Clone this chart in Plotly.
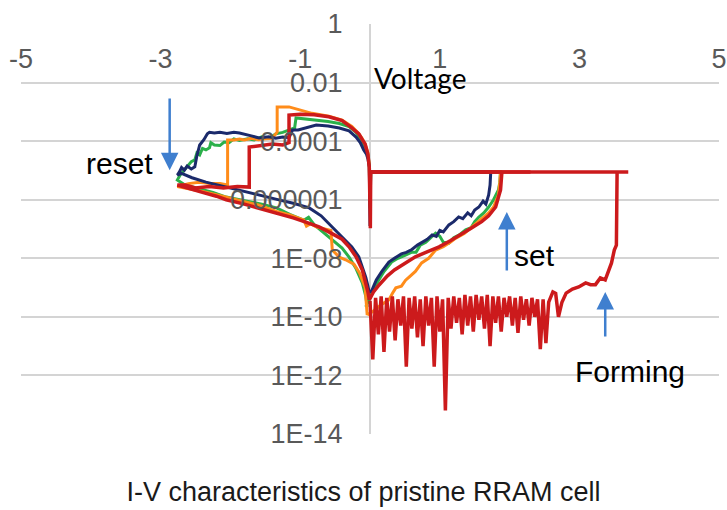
import numpy as np
import plotly.graph_objects as go

# ---------------- data (voltage in V, current as log10(A)) ----------------
x_tick_vals = [-5, -3, -1, 1, 3, 5]
x_tick_text = ["-5", "-3", "-1", "1", "3", "5"]
y_tick_vals = [1, 1e-2, 1e-4, 1e-6, 1e-8, 1e-10, 1e-12, 1e-14]
y_tick_text = ["1", "0.01", "0.0001", "0.000001", "1E-08", "1E-10", "1E-12", "1E-14"]

navy_v = [0.01, 0.05, 0.09, 0.17, 0.27, 0.35, 0.45, 0.52, 0.60, 0.68, 0.75, 0.82, 0.89, 0.95, 1.00, 1.05,
          1.13, 1.20, 1.27, 1.33, 1.40, 1.45, 1.50, 1.56, 1.62, 1.66, 1.70, 1.72, 1.73,
          0.01, 0.00,
          -0.01, -0.03, -0.05, -0.09, -0.14, -0.20, -0.30, -0.44, -0.60, -0.77, -0.87, -0.95, -1.03, -1.11,
          -1.16, -1.25, -1.35, -1.45, -1.59, -1.70, -1.80, -1.87, -1.95, -2.05, -2.15, -2.23, -2.30, -2.33,
          -2.38, -2.44, -2.48, -2.51, -2.56, -2.62, -2.66, -2.70, -2.73, -2.76,
          -2.70, -2.55, -2.35, -2.10, -1.85, -1.59, -1.35, -1.10, -0.87, -0.70, -0.54, -0.40, -0.26, -0.16,
          -0.11, -0.06, -0.03, -0.01]
navy_logi = [-9.19, -8.95, -8.74, -8.45, -8.13, -8.00, -7.85, -7.80, -7.70, -7.55, -7.45, -7.35, -7.20, -7.25,
             -7.05, -7.10, -6.86, -6.75, -6.59, -6.65, -6.45, -6.55, -6.35, -6.25, -6.05, -6.15, -5.84, -5.50, -5.05,
             -5.05, -6.90,
             -4.88, -4.60, -4.45, -4.30, -4.05, -3.86, -3.65, -3.55, -3.48, -3.45, -3.52, -3.58, -3.62, -3.62,
             -3.88, -3.86, -3.90, -3.85, -3.89, -3.82, -3.75, -3.72, -3.70, -3.74, -3.70, -3.72, -3.70, -3.75,
             -3.95, -4.13, -4.50, -4.88, -4.95, -4.85, -4.99, -4.90, -5.05, -5.16,
             -5.10, -5.25, -5.40, -5.55, -5.70, -5.84, -5.98, -6.12, -6.28, -6.55, -6.93, -7.25, -7.61, -7.95,
             -8.30, -8.65, -8.95, -9.19]

green_v = [-0.06, 0.00, 0.05, 0.10, 0.20, 0.31, 0.40, 0.50, 0.60, 0.66, 0.72, 0.80, 0.87, 0.94, 1.00, 1.05,
           1.13, 1.20, 1.28, 1.37, 1.45, 1.50, 1.56, 1.63, 1.70, 1.77, 1.84, 1.86, 1.87,
           0.01, 0.00,
           -0.01, -0.03, -0.05, -0.09, -0.14, -0.20, -0.30, -0.44, -0.60, -0.77, -0.90, -1.00, -1.06, -1.08,
           -1.15, -1.25, -1.35, -1.44, -1.55, -1.66, -1.75, -1.87, -1.95, -2.02, -2.09, -2.15, -2.23, -2.28,
           -2.30, -2.35, -2.40, -2.44, -2.48, -2.51, -2.56, -2.62, -2.66, -2.72, -2.76,
           -2.65, -2.45, -2.25, -2.06, -1.80, -1.55, -1.34, -1.15, -0.95, -0.88, -0.80, -0.70, -0.54, -0.40,
           -0.30, -0.20, -0.11, -0.06, -0.04]
green_logi = [-9.66, -9.30, -9.05, -8.84, -8.45, -8.13, -8.00, -7.90, -7.79, -7.79, -7.55, -7.45, -7.30, -7.14,
              -7.25, -7.45, -7.48, -7.30, -7.20, -7.03, -6.95, -6.75, -6.59, -6.45, -6.25, -6.00, -5.67, -5.40, -5.05,
              -5.05, -6.20,
              -4.80, -4.50, -4.30, -4.10, -3.90, -3.70, -3.50, -3.40, -3.33, -3.28, -3.25, -3.22, -3.21, -3.55,
              -3.62, -3.70, -3.75, -3.89, -3.85, -3.96, -3.92, -3.98, -3.92, -4.05, -4.03, -4.15, -4.13, -4.05,
              -4.23, -4.30, -4.25, -4.47, -4.40, -4.64, -4.70, -4.88, -5.00, -5.16, -5.33,
              -5.50, -5.62, -5.75, -5.91, -6.03, -6.15, -6.28, -6.50, -6.70, -6.60, -6.85, -7.05, -7.38, -7.65,
              -7.96, -8.35, -8.84, -9.30, -9.66]

orange_v = [-0.04, 0.05, 0.15, 0.27, 0.32, 0.37, 0.45, 0.51, 0.56, 0.65, 0.74, 0.84, 0.94, 1.05, 1.15, 1.23,
            1.35, 1.45, 1.55, 1.62, 1.70, 1.77, 1.84, 1.86, 1.87,
            0.01, 0.00,
            -0.01, -0.03, -0.07, -0.11, -0.16, -0.26, -0.40, -0.59, -0.83, -1.01, -1.16, -1.25, -1.33,
            -1.33, -1.40, -1.50, -1.60, -1.70, -1.80, -1.87, -1.95, -2.04,
            -2.04, -2.15, -2.30, -2.45, -2.60, -2.76,
            -2.60, -2.40, -2.20, -2.06, -1.80, -1.60, -1.34, -1.15, -0.95, -0.91, -0.85, -0.77, -0.65, -0.56,
            -0.54, -0.44, -0.35, -0.23, -0.15, -0.07, -0.04]
orange_logi = [-9.94, -9.80, -9.60, -9.42, -9.20, -9.01, -8.95, -8.75, -8.64, -8.45, -8.16, -8.00, -7.72, -7.60,
               -7.45, -7.31, -7.15, -6.95, -6.75, -6.60, -6.45, -6.25, -5.84, -5.40, -5.05,
               -5.05, -6.30,
               -4.85, -4.40, -4.10, -3.92, -3.75, -3.50, -3.28, -3.15, -3.05, -2.93, -2.83, -2.83, -2.83,
               -3.69, -3.90, -3.92, -3.95, -3.90, -3.96, -3.93, -3.96, -3.96,
               -5.50, -5.45, -5.45, -5.40, -5.45, -5.55,
               -5.62, -5.72, -5.83, -5.91, -6.05, -6.18, -6.40, -6.52, -6.69, -6.90, -6.82, -6.93, -7.00, -7.05,
               -7.72, -7.96, -8.05, -8.20, -8.50, -9.00, -9.94]

red_v = [-0.01, 0.05, 0.13, 0.25, 0.35, 0.51, 0.65, 0.80, 0.99, 1.15, 1.30, 1.46, 1.60, 1.70, 1.80, 1.85,
         1.87, 1.89,
         2.30, 0.01, 0.005,
         -0.01, -0.03, -0.07, -0.11, -0.16, -0.26, -0.40, -0.59, -0.80, -1.00, -1.16,
         -1.16, -1.25, -1.40, -1.55, -1.73,
         -1.73, -1.90, -2.10, -2.30, -2.50, -2.65, -2.76,
         -2.60, -2.40, -2.20, -2.06, -1.80, -1.60, -1.34, -1.10, -0.90, -0.73, -0.55, -0.40, -0.30, -0.20,
         -0.11, -0.06, -0.03, -0.01]
red_logi = [-9.42, -9.15, -8.91, -8.60, -8.40, -8.16, -7.95, -7.80, -7.61, -7.40, -7.20, -6.96, -6.75, -6.55,
            -6.25, -5.90, -5.67, -5.05,
            -5.05, -5.05, -6.97,
            -4.90, -4.45, -4.10, -3.95, -3.75, -3.55, -3.30, -3.17, -3.10, -3.08, -3.11,
            -4.05, -4.13, -4.10, -4.15, -4.20,
            -5.57, -5.55, -5.60, -5.55, -5.60, -5.50, -5.50,
            -5.62, -5.75, -5.88, -6.00, -6.15, -6.28, -6.45, -6.62, -6.78, -6.93, -7.15, -7.35, -7.61, -7.95,
            -8.40, -8.84, -9.15, -9.42]

forming_v = [0.00, 0.04, 0.08, 0.12, 0.16, 0.20, 0.24, 0.28, 0.32, 0.36, 0.40, 0.44, 0.48, 0.52, 0.56, 0.60,
             0.64, 0.68, 0.72, 0.76, 0.80, 0.84, 0.88, 0.92, 0.96, 1.00, 1.04, 1.08, 1.12, 1.16, 1.20, 1.24,
             1.28, 1.32, 1.36, 1.40, 1.44, 1.48, 1.52, 1.56, 1.60, 1.64, 1.68, 1.72, 1.76, 1.80, 1.84, 1.88,
             1.92, 1.96, 2.00, 2.04, 2.08, 2.12, 2.16, 2.20, 2.24, 2.28, 2.32, 2.36, 2.40, 2.44, 2.48, 2.52,
             2.56, 2.62, 2.66, 2.70, 2.75, 2.81, 2.90, 2.99, 3.09, 3.16, 3.23, 3.30, 3.37,
             3.41, 3.46, 3.50, 3.53, 3.54, 3.70, 0.01]
forming_logi = [-9.45, -11.45, -9.35, -10.60, -9.30, -11.20, -9.35, -10.50, -9.30, -10.80, -9.40, -10.30,
                -9.30, -11.70, -9.35, -10.40, -9.30, -10.70, -9.40, -11.00, -9.30, -10.30, -9.35, -11.70,
                -9.30, -10.50, -9.40, -13.20, -9.35, -10.40, -9.30, -10.20, -9.35, -10.60, -9.25, -10.30,
                -9.30, -10.50, -9.25, -10.10, -9.30, -10.40, -9.25, -11.00, -9.30, -10.20, -9.30, -10.50,
                -9.35, -10.00, -9.30, -10.30, -9.35, -10.55, -9.30, -10.10, -9.40, -10.30, -9.35, -10.00,
                -9.40, -11.10, -9.40, -10.90, -9.50, -9.15, -9.20, -10.00, -9.50, -9.19, -9.05, -8.98,
                -8.84, -8.90, -8.90, -8.67, -8.74, -8.50, -8.16, -7.72, -7.55, -5.05, -5.05, -5.05]

# arrows and labels: (voltage, log10 current)
reset_arrow = dict(v=-2.87, tail=-2.49, tip=-4.99)
set_arrow = dict(v=1.96, tail=-8.47, tip=-6.42)
forming_arrow = dict(v=3.37, tail=-10.72, tip=-9.15)

NAVY = "#1b2a6b"
GREEN = "#2bb04a"
ORANGE = "#ff8c1a"
RED = "#cc1a1c"
BLUE = "#3f7fcf"

def cur(logs):
    return np.power(10.0, np.array(logs))

fig = go.Figure()
for v, l, c, w in [(green_v, green_logi, GREEN, 3),
                   (orange_v, orange_logi, ORANGE, 3),
                   (navy_v, navy_logi, NAVY, 3),
                   (red_v, red_logi, RED, 3.5),
                   (forming_v, forming_logi, RED, 3.5)]:
    fig.add_trace(go.Scatter(x=v, y=cur(l), mode="lines",
                             line=dict(color=c, width=w), showlegend=False,
                             hoverinfo="skip"))

tick_font = dict(family="Liberation Sans, Arial", size=27, color="#595959")

fig.update_layout(
    width=727, height=510,
    margin=dict(l=21, r=8, t=24, b=76, autoexpand=False),
    paper_bgcolor="white", plot_bgcolor="white",
    title=dict(text="I-V characteristics of pristine RRAM cell",
               x=0.5, xanchor="center", y=1 - 492 / 510, yanchor="middle",
               font=dict(family="Liberation Sans, Arial", size=27, color="#1a1a1a")),
    xaxis=dict(range=[-5, 5], tickvals=x_tick_vals, ticktext=x_tick_text,
               showgrid=False, zeroline=True, zerolinecolor="#d4d4d4", zerolinewidth=1.5,
               showline=False, ticks="", anchor="free", position=0.96, automargin=False,
               ticklabeloverflow="allow", tickfont=tick_font),
    yaxis=dict(type="log", range=[-14, 0], tickvals=y_tick_vals, ticktext=y_tick_text,
               showgrid=True, gridcolor="#d4d4d4", gridwidth=1.5, automargin=False,
               showline=False, zeroline=False, anchor="free", position=0.5,
               ticks="outside", ticklen=22, tickcolor="rgba(0,0,0,0)",
               tickfont=tick_font),
)

label_font = dict(family="Liberation Sans, Arial", size=30, color="black")
fig.add_annotation(x=0.03, y=-1.84, text="Voltage", showarrow=False, xanchor="left",
                   font=dict(family="Lato", size=28, color="black"))
fig.add_annotation(x=-3.59, y=-4.75, text="reset", showarrow=False, font=label_font)
fig.add_annotation(x=2.36, y=-7.89, text="set", showarrow=False, font=label_font)
fig.add_annotation(x=3.73, y=-11.88, text="Forming", showarrow=False, font=label_font)

for a in (reset_arrow, set_arrow, forming_arrow):
    fig.add_annotation(x=a["v"], y=a["tip"], ax=a["v"], ay=a["tail"], axref="x", ayref="y",
                       text="", showarrow=True, arrowhead=2, arrowsize=1.4, arrowwidth=2.5,
                       arrowcolor=BLUE, standoff=0)

fig.write_html("out.html")
